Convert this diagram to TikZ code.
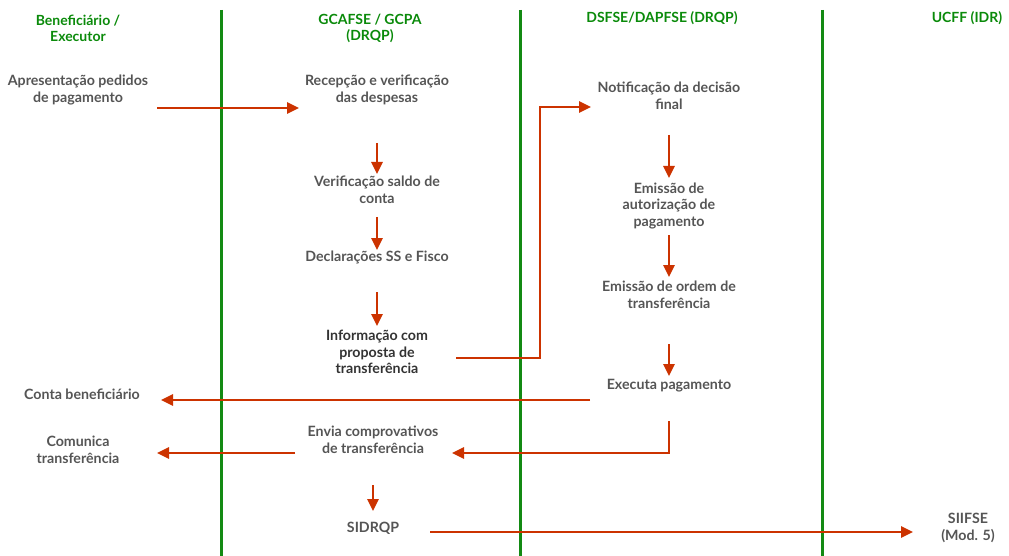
\documentclass[tikz,border=0pt]{standalone}
\usepackage{fontspec}
\setmainfont{Lato}
\usetikzlibrary{arrows.meta}
\definecolor{lanegreen}{HTML}{138A13}
\definecolor{headgreen}{HTML}{0A8A0A}
\definecolor{txtgray}{HTML}{555555}
\definecolor{txtdark}{HTML}{333333}
\definecolor{flowred}{HTML}{CC3300}
\tikzset{
  lane/.style={draw=lanegreen, line width=3pt},
  head/.style={text=headgreen, font=\bfseries\fontsize{14}{16}\selectfont, align=center, inner sep=0pt},
  lbl/.style={text=txtgray, font=\bfseries\fontsize{14.2}{16.5}\selectfont, align=center, inner sep=0pt},
  lbldark/.style={lbl, text=txtdark},
  arr/.style={draw=flowred, line width=2.6pt, -{Triangle[length=12pt,width=11pt]}},
  seg/.style={draw=flowred, line width=2.6pt}
}
\begin{document}
\begin{tikzpicture}[x=1pt,y=-1pt]
\useasboundingbox (0,0) rectangle (1009,556);
% lanes
\coordinate (l1t) at (221,10); \coordinate (l1b) at (221,556);
\coordinate (l2t) at (520,10); \coordinate (l2b) at (520,556);
\coordinate (l3t) at (822,10); \coordinate (l3b) at (822,556);
\draw[lane] (l1t) -- (l1b);
\draw[lane] (l2t) -- (l2b);
\draw[lane] (l3t) -- (l3b);
% headers
\node[head] (h1) at (78,28) {Beneficiário /\\Executor};
\node[head] (h2) at (370,28) {GCAFSE / GCPA\\(DRQP)};
\node[head] (h3) at (662,18) {DSFSE/DAPFSE (DRQP)};
\node[head] (h4) at (967,18) {UCFF (IDR)};
% labels
\node[lbl] (apr) at (78,90) {Apresentação pedidos\\de pagamento};
\node[lbl] (rec) at (377,90) {Recepção e verificação\\das despesas};
\node[lbl] (not) at (669,96) {Notificação da decisão\\final};
\node[lbl] (ver) at (377,190) {Verificação saldo de\\conta};
\node[lbl] (aut) at (669,206) {Emissão de\\autorização de\\pagamento};
\node[lbl] (dec) at (377,257) {Declarações SS e Fisco};
\node[lbl] (ord) at (669,295) {Emissão de ordem de\\transferência};
\node[lbldark] (inf) at (377,352) {Informação com\\proposta de\\transferência};
\node[lbl] (exe) at (669,386) {Executa pagamento};
\node[lbl] (con) at (82,394) {Conta beneficiário};
\node[lbl] (env) at (373,440) {Envia comprovativos\\de transferência};
\node[lbl] (com) at (78,450) {Comunica\\transferência};
\node[lbl] (sid) at (373,528) {SIDRQP};
\node[lbl] (sii) at (968,528) {SIIFSE\\(Mod. 5)};
% connector points
\coordinate (aprOut) at (157,108);
\coordinate (recIn) at (299,108);
\coordinate (recOut) at (377,143);
\coordinate (verIn) at (377,174);
\coordinate (verOut) at (377,217);
\coordinate (decIn) at (377,250);
\coordinate (decOut) at (377,292);
\coordinate (infIn) at (377,326);
\coordinate (infOut) at (456,358);
\coordinate (bendA) at (540,358);
\coordinate (bendB) at (540,107);
\coordinate (notIn) at (591,107);
\coordinate (notOut) at (669,135);
\coordinate (autIn) at (669,178);
\coordinate (autOut) at (669,235);
\coordinate (ordIn) at (669,277);
\coordinate (ordOut) at (669,344);
\coordinate (exeIn) at (669,376);
\coordinate (exeOut1) at (590,400);
\coordinate (conIn) at (161,400);
\coordinate (exeOut2) at (669,421);
\coordinate (bendC) at (669,453);
\coordinate (envIn) at (452,453);
\coordinate (envOut) at (295,453);
\coordinate (comIn) at (157,453);
\coordinate (envOut2) at (373,485);
\coordinate (sidIn) at (373,511);
\coordinate (sidOut) at (430,532);
\coordinate (siiIn) at (913,532);
% connectors
\draw[arr] (aprOut) -- (recIn);
\draw[arr] (recOut) -- (verIn);
\draw[arr] (verOut) -- (decIn);
\draw[arr] (decOut) -- (infIn);
\draw[arr] (infOut) -- (bendA) -- (bendB) -- (notIn);
\draw[arr] (notOut) -- (autIn);
\draw[arr] (autOut) -- (ordIn);
\draw[arr] (ordOut) -- (exeIn);
\draw[arr] (exeOut1) -- (conIn);
\draw[arr] (exeOut2) -- (bendC) -- (envIn);
\draw[arr] (envOut) -- (comIn);
\draw[arr] (envOut2) -- (sidIn);
\draw[arr] (sidOut) -- (siiIn);
\end{tikzpicture}
\end{document}
